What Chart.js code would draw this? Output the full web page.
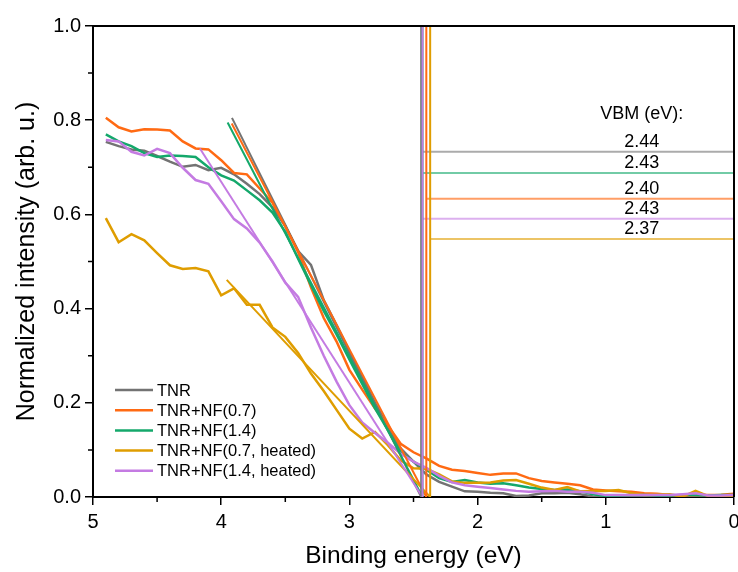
<!DOCTYPE html>
<html>
<head>
<meta charset="utf-8">
<script src="https://cdn.jsdelivr.net/npm/chart.js@4/dist/chart.umd.min.js"></script>
<style>
  html, body { margin: 0; padding: 0; background: #ffffff; }
  #wrap { width: 738px; height: 572px; }
</style>
</head>
<body>
<div id="wrap"><canvas id="c" width="738" height="572"></canvas></div>
<script>
// ---------- data ----------
const energy = [4.9,4.8,4.7,4.6,4.5,4.4,4.3,4.2,4.1,4.0,3.9,3.8,3.7,3.6,3.5,3.4,3.3,3.2,3.1,3.0,2.9,2.8,2.7,2.6,2.5,2.4,2.3,2.2,2.1,2.0,1.9,1.8,1.7,1.6,1.5,1.4,1.3,1.2,1.1,1.0,0.9,0.8,0.7,0.6,0.5,0.4,0.3,0.2,0.1,0.0];

const tnr    = [0.754,0.745,0.738,0.735,0.724,0.712,0.701,0.705,0.694,0.699,0.685,0.665,0.643,0.615,0.575,0.522,0.493,0.418,0.365,0.310,0.255,0.200,0.150,0.103,0.075,0.048,0.032,0.022,0.012,0.011,0.009,0.008,0.002,0.003,0.008,0.008,0.009,0.006,0.001,0.000,0.000,0.001,0.000,0.001,0.000,0.000,0.001,0.000,0.000,0.001];
const nf07   = [0.805,0.785,0.776,0.781,0.780,0.778,0.755,0.740,0.738,0.715,0.688,0.685,0.655,0.625,0.575,0.520,0.445,0.380,0.330,0.270,0.228,0.188,0.152,0.113,0.095,0.082,0.066,0.058,0.055,0.051,0.047,0.050,0.050,0.040,0.034,0.031,0.028,0.025,0.016,0.014,0.012,0.011,0.008,0.007,0.004,0.003,0.004,0.004,0.005,0.007];
const nf14   = [0.770,0.755,0.745,0.730,0.722,0.725,0.724,0.722,0.700,0.683,0.672,0.651,0.630,0.604,0.563,0.506,0.450,0.395,0.345,0.292,0.240,0.188,0.142,0.095,0.075,0.058,0.040,0.032,0.036,0.031,0.028,0.029,0.025,0.020,0.017,0.015,0.016,0.012,0.006,0.002,0.003,0.004,0.004,0.003,0.003,0.004,0.004,0.003,0.004,0.004];
const nf07h  = [0.592,0.541,0.558,0.545,0.518,0.492,0.484,0.486,0.479,0.428,0.443,0.408,0.408,0.360,0.340,0.306,0.262,0.225,0.185,0.145,0.124,0.138,0.110,0.078,0.061,0.060,0.048,0.033,0.030,0.030,0.031,0.035,0.036,0.028,0.020,0.015,0.021,0.012,0.013,0.013,0.015,0.008,0.004,0.005,0.006,0.001,0.013,0.002,0.001,0.000];
const nf14h  = [0.758,0.755,0.733,0.725,0.739,0.730,0.699,0.673,0.665,0.628,0.590,0.570,0.540,0.500,0.455,0.425,0.360,0.300,0.245,0.195,0.158,0.136,0.115,0.092,0.075,0.062,0.045,0.031,0.025,0.022,0.019,0.016,0.013,0.011,0.012,0.013,0.011,0.011,0.009,0.004,0.004,0.004,0.004,0.004,0.004,0.006,0.008,0.003,0.003,0.004];

const seriesLabels = ['TNR','TNR+NF(0.7)','TNR+NF(1.4)','TNR+NF(0.7, heated)','TNR+NF(1.4, heated)'];
const seriesValues = [tnr, nf07, nf14, nf07h, nf14h];
const seriesColors = ['#737373','#FF6A13','#14A86B','#DF9D00','#C47BE2'];
const seriesColorsLight = ['rgba(115,115,115,0.6)','rgba(255,106,19,0.65)','rgba(20,168,107,0.6)','rgba(223,157,0,0.6)','rgba(196,123,226,0.6)'];

// linear fits: start point (energy, intensity) down to VBM at zero intensity
const fitStartE = [3.916, 3.918, 3.950, 3.957, 4.166];
const fitStartI = [0.805, 0.793, 0.795, 0.461, 0.740];
const vbm       = [2.44, 2.40, 2.43, 2.37, 2.43];
const vbmLabels = ['2.44','2.40','2.43','2.37','2.43'];
const vbmLevel  = [0.733, 0.633, 0.688, 0.548, 0.591];
const vbmTitle  = 'VBM (eV):';
const vbmLabelE = 0.72;

const xTicks = [5,4,3,2,1,0];
const xMinor = [4.5,3.5,2.5,1.5,0.5];
const yTicks = [0,0.2,0.4,0.6,0.8,1.0];
const yMinor = [0.1,0.3,0.5,0.7,0.9];

// ---------- datasets ----------
const FONT = "'Liberation Sans', Arial, sans-serif";
const datasets = [];
// horizontal VBM level lines (bottom layer)
seriesLabels.forEach((lab, i) => {
  datasets.push({
    label: 'h' + i, kind: 'hline',
    data: [{x: vbm[i], y: vbmLevel[i]}, {x: 0, y: vbmLevel[i]}],
    borderColor: seriesColorsLight[i], borderWidth: 2, pointRadius: 0, order: 100 - i
  });
});
// data lines
seriesLabels.forEach((lab, i) => {
  datasets.push({
    label: lab, kind: 'data', idx: i,
    data: energy.map((e, k) => ({x: e, y: seriesValues[i][k]})),
    borderColor: seriesColors[i], borderWidth: 2.5, pointRadius: 0, tension: 0, order: 80 - i
  });
});
// fit lines
seriesLabels.forEach((lab, i) => {
  datasets.push({
    label: 'fit' + i, kind: 'fit',
    data: [{x: fitStartE[i], y: fitStartI[i]}, {x: vbm[i], y: 0}],
    borderColor: seriesColors[i], borderWidth: 2, pointRadius: 0, order: 60 - i
  });
});
// vertical VBM lines (top)
seriesLabels.forEach((lab, i) => {
  datasets.push({
    label: 'v' + i, kind: 'vline',
    data: [{x: vbm[i], y: 0}, {x: vbm[i], y: 1}],
    borderColor: seriesColors[i], borderWidth: 2, pointRadius: 0, order: 40 - i
  });
});

// ---------- plugin: frame, minor ticks, legend, VBM labels ----------
const extras = {
  id: 'extras',
  afterDraw(chart) {
    const ctx = chart.ctx;
    const a = chart.chartArea;
    const xs = chart.scales.x, ys = chart.scales.y;
    ctx.save();
    ctx.strokeStyle = '#000';
    ctx.lineWidth = 2;
    // frame top & right
    ctx.beginPath();
    ctx.moveTo(a.left, a.top); ctx.lineTo(a.right, a.top); ctx.lineTo(a.right, a.bottom);
    ctx.stroke();
    // minor ticks
    ctx.lineWidth = 1.5;
    ctx.beginPath();
    xMinor.forEach(v => { const px = xs.getPixelForValue(v); ctx.moveTo(px, a.bottom); ctx.lineTo(px, a.bottom + 5); });
    yMinor.forEach(v => { const py = ys.getPixelForValue(v); ctx.moveTo(a.left, py); ctx.lineTo(a.left - 5, py); });
    ctx.stroke();

    // VBM labels
    ctx.fillStyle = '#000';
    ctx.font = '18px ' + FONT;
    ctx.textAlign = 'center';
    ctx.textBaseline = 'middle';
    const lx = xs.getPixelForValue(vbmLabelE);
    const topLevel = Math.max(...vbmLevel);
    ctx.fillText(vbmTitle, lx, ys.getPixelForValue(topLevel) - 38);
    vbmLabels.forEach((t, i) => {
      ctx.fillText(t, lx, ys.getPixelForValue(vbmLevel[i]) - 9.5);
    });

    // legend
    ctx.font = '16.5px ' + FONT;
    ctx.textAlign = 'left';
    const lx0 = a.left + 22, ly0 = a.bottom - 107, step = 20.2;
    seriesLabels.forEach((t, i) => {
      const y = ly0 + i * step;
      ctx.strokeStyle = seriesColors[i];
      ctx.lineWidth = 2.5;
      ctx.beginPath(); ctx.moveTo(lx0, y); ctx.lineTo(lx0 + 38, y); ctx.stroke();
      ctx.fillStyle = '#000';
      ctx.fillText(t, lx0 + 42, y + 1);
    });
    ctx.restore();
  }
};

new Chart(document.getElementById('c'), {
  type: 'line',
  data: { datasets },
  options: {
    responsive: false,
    animation: false,
    devicePixelRatio: 1,
    layout: { padding: { top: 26, right: 4, left: 0, bottom: 0 } },
    plugins: { legend: { display: false }, tooltip: { enabled: false } },
    elements: { line: { tension: 0 } },
    scales: {
      x: {
        type: 'linear', reverse: true, min: 0, max: 5,
        afterBuildTicks(s) { s.ticks = xTicks.map(v => ({value: v})); },
        afterFit(s) { s.height = 75; s.paddingLeft = 0; s.paddingRight = 0; },
        ticks: { color: '#000', font: { family: FONT, size: 20 }, padding: 5, maxRotation: 0,
                 callback: v => String(v) },
        grid: { drawOnChartArea: false, drawTicks: true, tickLength: 8, color: '#000', lineWidth: 1.5 },
        border: { display: true, color: '#000', width: 2 },
        title: { display: true, text: 'Binding energy (eV)', color: '#000',
                 font: { family: FONT, size: 24.5 }, padding: { top: 0, bottom: 1 } }
      },
      y: {
        type: 'linear', min: 0, max: 1,
        afterBuildTicks(s) { s.ticks = yTicks.map(v => ({value: v})); },
        afterFit(s) { s.width = 93; s.paddingTop = 0; s.paddingBottom = 0; },
        ticks: { color: '#000', font: { family: FONT, size: 20 }, padding: 4,
                 callback: v => Number(v).toFixed(1) },
        grid: { drawOnChartArea: false, drawTicks: true, tickLength: 8, color: '#000', lineWidth: 1.5 },
        border: { display: true, color: '#000', width: 2 },
        title: { display: true, text: 'Normalized intensity (arb. u.)', color: '#000',
                 font: { family: FONT, size: 25 }, padding: { top: 12, bottom: 0 } }
      }
    }
  },
  plugins: [extras]
});
</script>
</body>
</html>
